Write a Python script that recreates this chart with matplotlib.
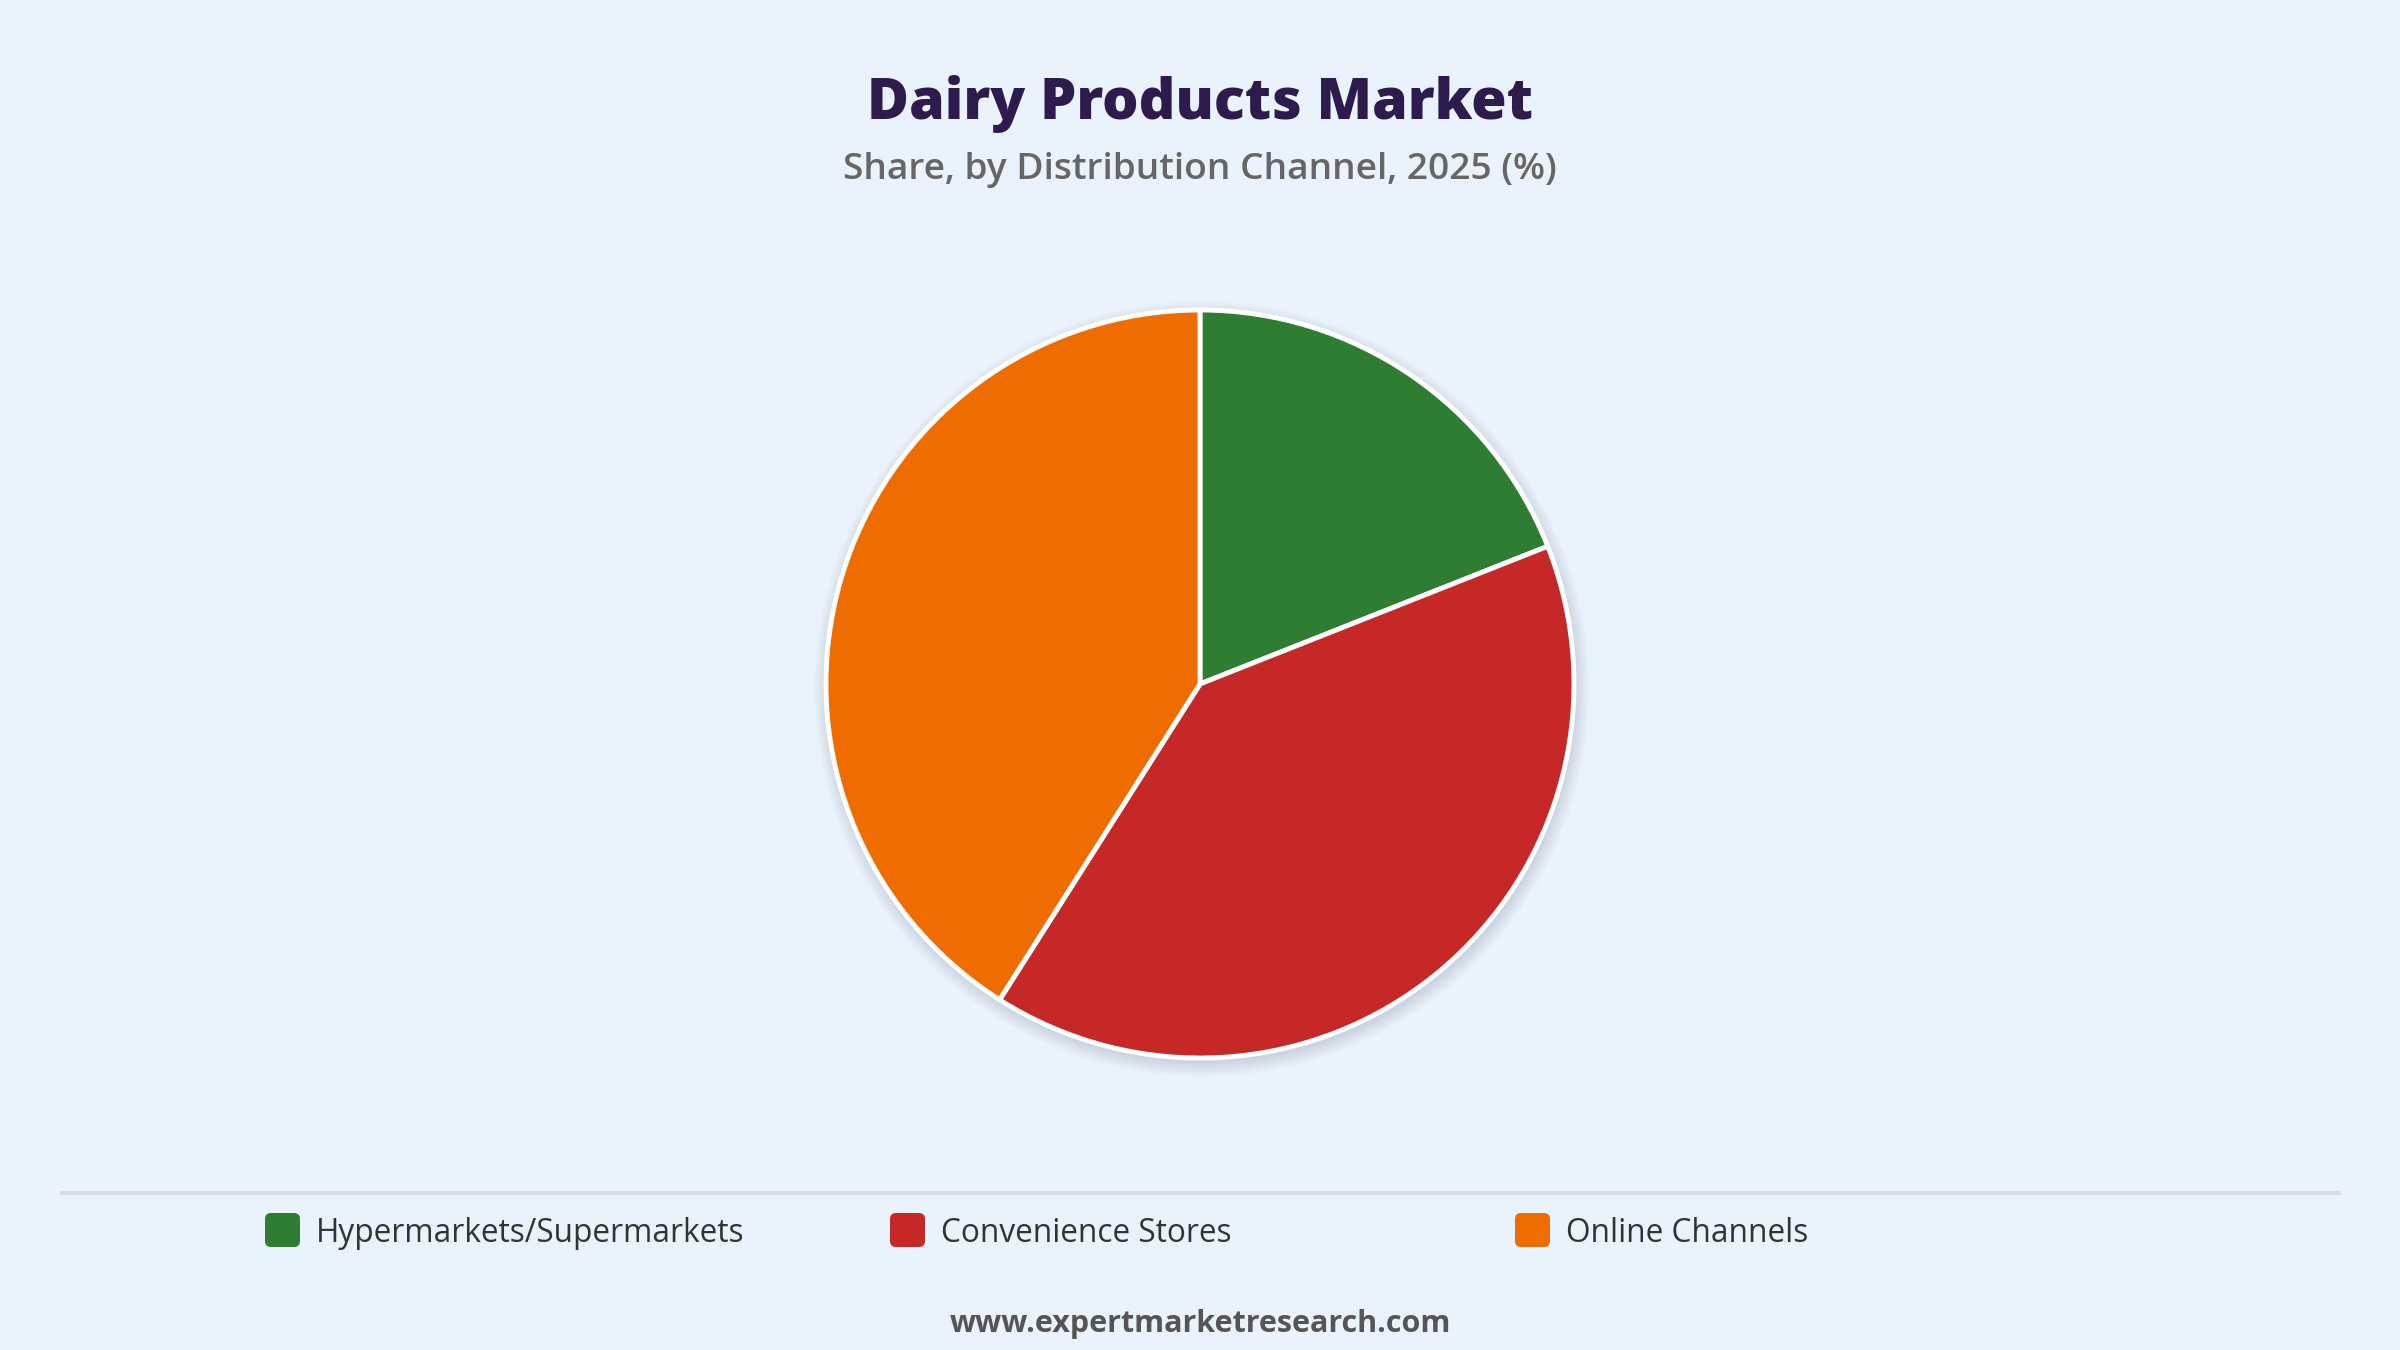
import matplotlib.pyplot as plt
from matplotlib.patches import Circle, FancyBboxPatch

plt.rcParams['font.family'] = ['Open Sans', 'DejaVu Sans']

channels = ['Hypermarkets/Supermarkets', 'Convenience Stores', 'Online Channels']
shares = [19, 40, 41]
colors = ['#2E7D32', '#C62828', '#EF6C00']

bg = '#EAF2FB'
W, H = 2400, 1350

fig = plt.figure(figsize=(24, 13.5), dpi=100, facecolor=bg)
ax = fig.add_axes([0, 0, 1, 1])
ax.set_xlim(0, W)
ax.set_ylim(0, H)
ax.set_aspect('equal')
ax.axis('off')

cx, cy, r = 1200, H - 684, 374

# soft shadow behind pie
for i in range(10):
    ax.add_patch(Circle((cx + 2, cy - 5), r + i * 1.5, color='#34506e',
                        alpha=0.014, lw=0, zorder=1))

ax.pie(shares, colors=colors, startangle=90, counterclock=False,
       center=(cx, cy), radius=r, frame=True,
       wedgeprops=dict(edgecolor='white', linewidth=3.5, zorder=3))
ax.set_xlim(0, W)
ax.set_ylim(0, H)
ax.axis('off')

# titles
ax.text(W / 2, H - 104, 'Dairy Products Market', ha='center', va='center',
        fontsize=41.3, fontweight=800, color='#2D1B4E')
ax.text(W / 2, H - 170, 'Share, by Distribution Channel, 2025 (%)', ha='center',
        va='center', fontsize=26.7, fontweight='semibold', color='#666666')

# separator
ax.plot([60, 2341], [H - 1193, H - 1193], color='#DADDE2', lw=3, solid_capstyle='butt')

# legend
lx0, dx, ly = 265, 625, H - 1230
for i, (name, c) in enumerate(zip(channels, colors)):
    x = lx0 + i * dx
    ax.add_patch(FancyBboxPatch((x, ly - 17), 35, 34,
                                boxstyle='round,pad=0,rounding_size=6',
                                fc=c, ec='none'))
    ax.text(x + 51, ly - 4, name, ha='left', va='center', fontsize=22.8, color='#333333')

# footer
ax.text(W / 2, H - 1324, 'www.expertmarketresearch.com', ha='center', va='center',
        fontsize=22, fontweight='bold', color='#555555')

fig.savefig('out.png', dpi=100, facecolor=bg)
